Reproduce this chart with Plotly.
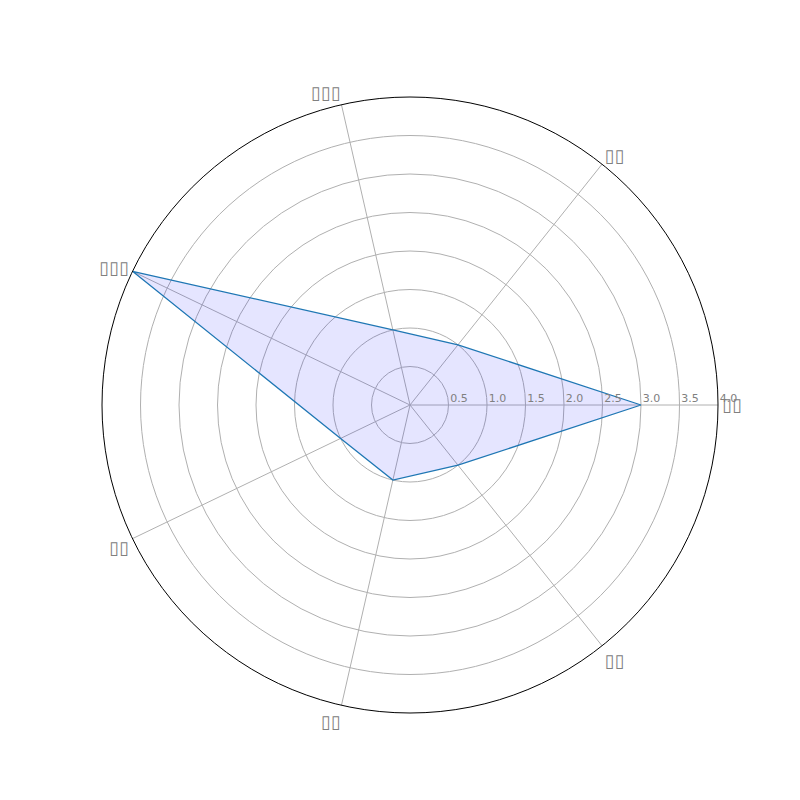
import plotly.graph_objects as go

# Labels render as missing-glyph boxes in the reference; reproduced as box characters
categories = ["▯▯", "▯▯", "▯▯▯", "▯▯▯", "▯▯", "▯▯", "▯▯"]
values = [3.0, 1.0, 1.0, 4.0, 1.0, 1.0, 1.0]
radial_ticks = [0.5, 1.0, 1.5, 2.0, 2.5, 3.0, 3.5, 4.0]
radial_ticktext = ["0.5", "1.0", "1.5", "2.0", "2.5", "3.0", "3.5", "4.0"]

n = len(categories)
step = 360.0 / n
thetas = [i * step for i in range(n)]

pad = "\u00a0" * 6

fig = go.Figure()
fig.add_trace(go.Scatterpolar(
    r=values + [values[0]],
    theta=thetas + [thetas[0]],
    mode="lines",
    line=dict(color="#1f77b4", width=1.3),
    fill="toself",
    fillcolor="rgba(0,0,255,0.1)",
    showlegend=False,
    hoverinfo="skip",
))

fig.update_layout(
    width=800, height=800,
    margin=dict(l=0, r=0, t=0, b=0),
    paper_bgcolor="white",
    font=dict(family="DejaVu Sans"),
    polar=dict(
        domain=dict(x=[0.1175, 0.8875], y=[0.11875, 0.88875]),
        bgcolor="white",
        angularaxis=dict(
            direction="counterclockwise",
            rotation=0,
            tickmode="array",
            tickvals=thetas,
            ticktext=categories,
            tickfont=dict(size=18, color="#808080"),
            showline=True,
            linecolor="black",
            linewidth=1,
            showgrid=True,
            gridcolor="#b0b0b0",
            gridwidth=1,
            ticks="",
        ),
        radialaxis=dict(
            range=[0, 4.0],
            angle=0,
            tickangle=0,
            tickmode="array",
            tickvals=radial_ticks,
            ticktext=[pad + t for t in radial_ticktext],
            tickfont=dict(size=11, color="#808080"),
            showline=False,
            showgrid=True,
            gridcolor="#b0b0b0",
            gridwidth=1,
            ticks="",
            side="counterclockwise",
        ),
    ),
)

fig.write_html("out.html")
